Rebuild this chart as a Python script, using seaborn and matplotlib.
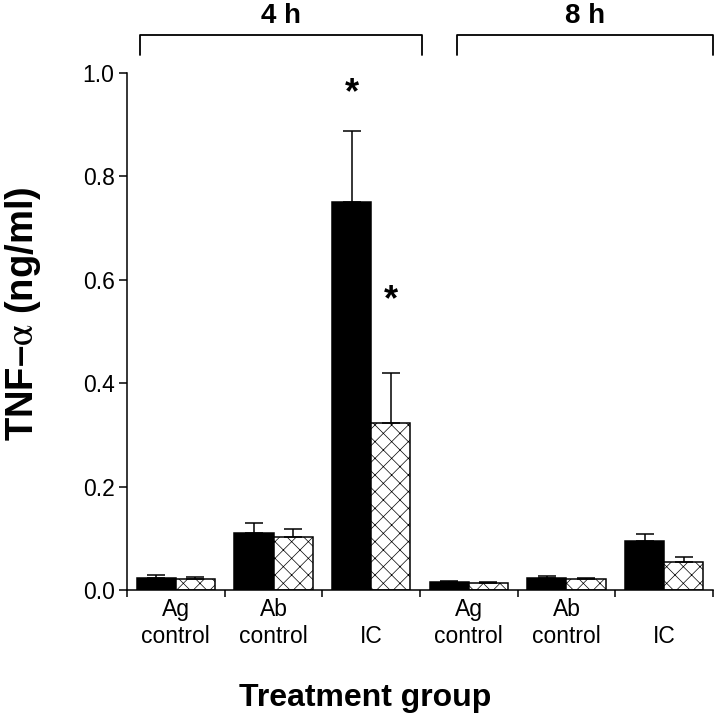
import matplotlib
matplotlib.use("Agg")
import matplotlib.pyplot as plt
import seaborn as sns
import pandas as pd
import numpy as np

# data
groups = ["Ag control 4 h", "Ab control 4 h", "IC 4 h",
          "Ag control 8 h", "Ab control 8 h", "IC 8 h"]
tick_labels = ["Ag\ncontrol", "Ab\ncontrol", "\nIC",
               "Ag\ncontrol", "Ab\ncontrol", "\nIC"]
series = ["solid", "hatched"]
solid_mean = [0.023, 0.110, 0.750, 0.015, 0.023, 0.095]
solid_err = [0.006, 0.020, 0.138, 0.002, 0.004, 0.013]
hatched_mean = [0.022, 0.103, 0.323, 0.014, 0.021, 0.054]
hatched_err = [0.003, 0.015, 0.097, 0.002, 0.003, 0.010]
time_labels = ["4 h", "8 h"]
star_groups = ["IC 4 h", "IC 4 h"]
star_values = [0.96, 0.56]

df = pd.DataFrame({
    "group": groups * 2,
    "series": [series[0]] * len(groups) + [series[1]] * len(groups),
    "value": solid_mean + hatched_mean,
})

sns.set_theme(style="ticks")
plt.rcParams["font.family"] = ["Liberation Sans", "DejaVu Sans"]
plt.rcParams["mathtext.fontset"] = "stix"
plt.rcParams["hatch.linewidth"] = 0.5
plt.rcParams["text.color"] = "black"
plt.rcParams["xtick.color"] = "black"
plt.rcParams["ytick.color"] = "black"
plt.rcParams["axes.labelcolor"] = "black"

fig = plt.figure(figsize=(7.16, 7.2), dpi=100)
ax = fig.add_axes([0.1774, 0.1806, 0.8184, 0.718])

sns.barplot(
    data=df, x="group", y="value", hue="series",
    order=groups, hue_order=series,
    palette={"solid": "black", "hatched": "white"},
    edgecolor="black", linewidth=1.1, width=0.8,
    errorbar=None, legend=False, ax=ax,
)

# hatching and one-sided error bars
for cont, err, hatch in zip(ax.containers, [solid_err, hatched_err], ["", "xx"]):
    xs, ys = [], []
    for bar in cont:
        bar.set_hatch(hatch)
        xs.append(bar.get_x() + bar.get_width() / 2)
        ys.append(bar.get_height())
    ax.errorbar(xs, ys, yerr=[np.zeros(len(err)), err], fmt="none",
                ecolor="black", elinewidth=1.1, capsize=6.5, capthick=1.1,
                zorder=1)

# significance stars
bar_w = 0.4
for g, v, k in zip(star_groups, star_values, [0, 1]):
    xc = groups.index(g) + (k - 0.5) * bar_w
    ax.text(xc, v, "*", ha="center", va="center", fontsize=26,
            fontweight="bold")

ax.set_xlim(-0.5, len(groups) - 0.5)
ax.set_ylim(0, 1.0)
ax.set_yticks(np.arange(0, 1.01, 0.2))
ax.set_yticklabels([f"{t:.1f}" for t in np.arange(0, 1.01, 0.2)])

ax.set_xticks(np.arange(-0.5, len(groups), 1))
ax.set_xticklabels([])
ax.set_xticks(range(len(groups)), minor=True)
ax.set_xticklabels(tick_labels, minor=True, linespacing=1.2)
ax.tick_params(axis="x", which="major", length=5, width=1.1, direction="out")
ax.tick_params(axis="x", which="minor", length=0, pad=6, labelsize=16.5)
ax.tick_params(axis="y", length=6, width=1.1, pad=3, labelsize=16.5)
sns.despine(ax=ax)
for s in ["left", "bottom"]:
    ax.spines[s].set_linewidth(1.1)
    ax.spines[s].set_color("black")

ax.set_ylabel(r"TNF–$\mathrm{\alpha}$ (ng/ml)", fontsize=27.5, fontweight="bold")
ax.yaxis.set_label_coords(-0.143, 0.535)
ax.set_xlabel("Treatment group", fontsize=23, fontweight="bold")
ax.xaxis.set_label_coords(0.406, -0.18)

# time brackets above the groups
brackets = [(-0.37, 2.52), (2.88, 5.5)]
trans = ax.get_xaxis_transform()
for (x0, x1), lab in zip(brackets, time_labels):
    ax.plot([x0, x0, x1, x1], [1.035, 1.0735, 1.0735, 1.035], color="black",
            lw=1.3, transform=trans, clip_on=False)
    ax.text((x0 + x1) / 2, 1.085, lab, ha="center", va="bottom",
            fontsize=20, fontweight="bold", transform=trans)

fig.savefig("out.png", dpi=100)
